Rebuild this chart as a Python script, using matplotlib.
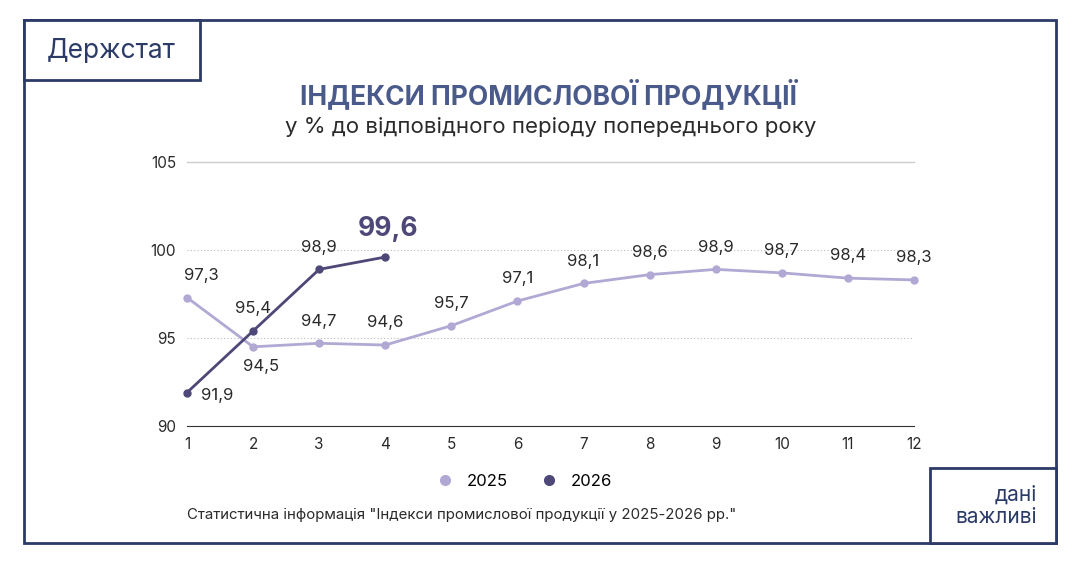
import matplotlib
matplotlib.use("Agg")
import matplotlib.pyplot as plt
from matplotlib.patches import Rectangle
from matplotlib.lines import Line2D

months = list(range(1, 13))
v2025 = [97.3, 94.5, 94.7, 94.6, 95.7, 97.1, 98.1, 98.6, 98.9, 98.7, 98.4, 98.3]
m2026 = [1, 2, 3, 4]
v2026 = [91.9, 95.4, 98.9, 99.6]
yticks = [90, 95, 100, 105]

navy = "#2b3a67"
c25 = "#b2a8d4"
c26 = "#4e4878"
txt = "#2a2a2a"
plt.rcParams['font.family'] = ['Inter', 'DejaVu Sans']

fig = plt.figure(figsize=(10.8, 5.67), dpi=100)
W, H = 1080, 567
def fx(x): return x / W
def fy(y): return 1 - y / H

fig.patches.append(Rectangle((fx(24), fy(543)), fx(1056) - fx(24), fy(20) - fy(543),
                             transform=fig.transFigure, fill=False, ec=navy, lw=2))
fig.patches.append(Rectangle((fx(24), fy(80)), fx(200) - fx(24), fy(20) - fy(80),
                             transform=fig.transFigure, fill=True, fc="white", ec=navy, lw=2))
fig.patches.append(Rectangle((fx(930), fy(543)), fx(1056) - fx(930), fy(468) - fy(543),
                             transform=fig.transFigure, fill=True, fc="white", ec=navy, lw=2))
fig.text(fx(111), fy(51), "Держстат", ha="center", va="center", fontsize=19, color=navy)
fig.text(fx(1037), fy(506), "дані\nважливі", ha="right", va="center", fontsize=15, color=navy, linespacing=1.1)
fig.text(fx(548), fy(95), "ІНДЕКСИ ПРОМИСЛОВОЇ ПРОДУКЦІЇ", ha="center", va="center",
         fontsize=19, fontweight="bold", color="#4a5a8a")
fig.text(fx(551), fy(127), "у % до відповідного періоду попереднього року", ha="center", va="center",
         fontsize=16, color=txt)
fig.text(fx(187), fy(515), 'Статистична інформація "Індекси промислової продукції у 2025-2026 рр."',
         ha="left", va="center", fontsize=10.8, color=txt)

ax = fig.add_axes([fx(187), fy(426), fx(914) - fx(187), fy(162) - fy(426)])
ax.set_xlim(1, 12)
ax.set_ylim(90, 105)
for s in ["top", "right", "left"]:
    ax.spines[s].set_visible(False)
ax.spines["bottom"].set_color("#333333")
ax.set_yticks(yticks)
ax.set_xticks(months)
ax.tick_params(length=0, labelsize=11, colors=txt, pad=8)
ax.axhline(105, color="#cccccc", lw=1, clip_on=False)
for y in (95, 100):
    ax.axhline(y, color="#bbbbbb", lw=0.8, ls=(0, (1, 2)))

ax.plot(months, v2025, color=c25, lw=2, marker="o", ms=5, clip_on=False, zorder=3)
ax.plot(m2026, v2026, color=c26, lw=2, marker="o", ms=5, clip_on=False, zorder=4)

def lab(v): return f"{v:.1f}".replace(".", ",")
off25 = {1: (10, 16), 2: (6, -14)}
for m, v in zip(months, v2025):
    dx, dy = off25.get(m, (0, 16))
    ax.annotate(lab(v), (m, v), xytext=(dx, dy), textcoords="offset points",
                ha="center", va="center", fontsize=12, color=txt)
off26 = {1: (22, -2), 2: (0, 16), 3: (0, 16), 4: (2, 20)}
for m, v in zip(m2026, v2026):
    dx, dy = off26[m]
    big = m == 4
    ax.annotate(lab(v), (m, v), xytext=(dx, dy), textcoords="offset points",
                ha="center", va="center", fontsize=19 if big else 12,
                fontweight="bold" if big else "normal", color=c26 if big else txt)

handles = [Line2D([], [], ls="", marker="o", color=c25, ms=7),
           Line2D([], [], ls="", marker="o", color=c26, ms=7)]
fig.legend(handles, ["2025", "2026"], loc="center", bbox_to_anchor=(fx(520), fy(481)),
           ncol=2, frameon=False, fontsize=12, handletextpad=0.3, columnspacing=1.5)

fig.savefig("out.png", dpi=100)
